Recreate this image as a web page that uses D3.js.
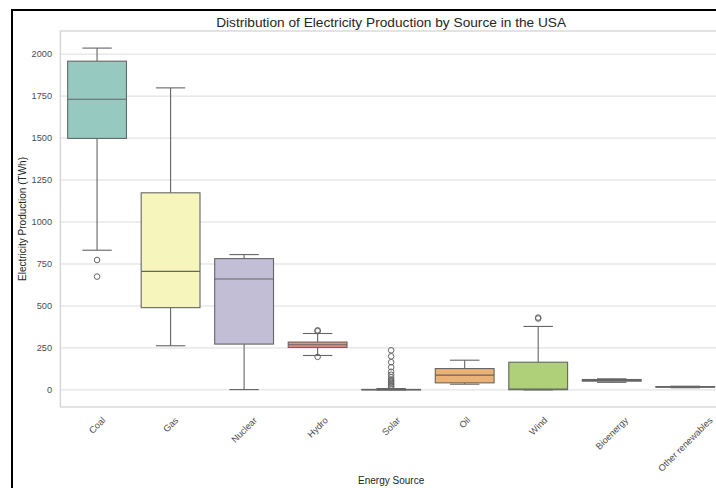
<!DOCTYPE html>
<html>
<head>
<meta charset="utf-8">
<script src="https://cdn.jsdelivr.net/npm/d3@7"></script>
<style>
  body { margin: 0; background: #fff; }
  svg { display: block; font-family: "Liberation Sans", Arial, sans-serif; }
</style>
</head>
<body>
<svg id="chart"></svg>
<script>
// 能源類別與盒形圖統計值 (TWh)
const sources = ["Coal", "Gas", "Nuclear", "Hydro", "Solar", "Oil", "Wind", "Bioenergy", "Other renewables"];
const whiskerLo = [832, 263, 2, 205, 0, 34, 0, 45, 13];
const q1 = [1498, 490, 273, 253, 0, 42, 1, 52, 16];
const median = [1731, 706, 661, 269, 1, 88, 5, 57, 18];
const q3 = [1958, 1174, 782, 285, 3, 127, 165, 62, 20];
const whiskerHi = [2036, 1799, 806, 336, 8, 177, 378, 66, 22];
const outliers = [
  [774, 675],
  [],
  [],
  [350, 355, 197],
  [18, 26, 35, 43, 53, 62, 75, 90, 108, 135, 165, 200, 236],
  [],
  [425, 431],
  [],
  []
];
const yTicks = [0, 250, 500, 750, 1000, 1250, 1500, 1750, 2000];
const palette = ["#8dd3c7", "#ffffb3", "#bebada", "#fb8072", "#80b1d3", "#fdb462", "#b3de69", "#fccde5", "#d9d9d9"];

const width = 716, height = 488;
const margin = { left: 60.3, right: 722, top: 31, bottom: 407 };

const svg = d3.select("#chart").attr("width", width).attr("height", height);

// 外框
svg.append("rect")
  .attr("x", 12).attr("y", 10)
  .attr("width", 800).attr("height", 600)
  .attr("fill", "none").attr("stroke", "#000").attr("stroke-width", 2);

// 比例尺 (matplotlib 式 5% 邊界)
const allVals = whiskerLo.concat(whiskerHi, outliers.flat());
const vmin = d3.min(allVals), vmax = d3.max(allVals);
const pad = (vmax - vmin) * 0.05;
const y = d3.scaleLinear().domain([vmin - pad, vmax + pad]).range([margin.bottom, margin.top]);
const x = d3.scaleBand().domain(sources).range([margin.left, margin.right]);
const boxW = x.bandwidth() * 0.8;
const capW = boxW / 2;

// 格線
svg.append("g").selectAll("line")
  .data(yTicks).enter().append("line")
  .attr("x1", margin.left).attr("x2", margin.right)
  .attr("y1", d => y(d)).attr("y2", d => y(d))
  .attr("stroke", "#dcdcdc").attr("stroke-width", 1);

// 邊框 spines
svg.append("rect")
  .attr("x", margin.left).attr("y", margin.top)
  .attr("width", margin.right - margin.left).attr("height", margin.bottom - margin.top)
  .attr("fill", "none").attr("stroke", "#d0d0d0").attr("stroke-width", 1.2);

// Y 軸標籤
svg.append("g").selectAll("text")
  .data(yTicks).enter().append("text")
  .attr("x", 52).attr("y", d => y(d))
  .attr("dy", "0.35em")
  .attr("text-anchor", "end")
  .attr("font-size", 9.2).attr("fill", "#4d4d4d")
  .text(d => d);

function desat(c) {
  const h = d3.hsl(c);
  h.s *= 0.75;
  return h.formatHex();
}
const lineColor = "#656565";

const boxes = svg.append("g");
sources.forEach((s, i) => {
  const cx = x(s) + x.bandwidth() / 2;
  const g = boxes.append("g");
  // whiskers
  g.append("line").attr("x1", cx).attr("x2", cx)
    .attr("y1", y(q3[i])).attr("y2", y(whiskerHi[i]))
    .attr("stroke", lineColor).attr("stroke-width", 1.1);
  g.append("line").attr("x1", cx).attr("x2", cx)
    .attr("y1", y(q1[i])).attr("y2", y(whiskerLo[i]))
    .attr("stroke", lineColor).attr("stroke-width", 1.1);
  // caps
  [whiskerLo[i], whiskerHi[i]].forEach(v => {
    g.append("line").attr("x1", cx - capW / 2).attr("x2", cx + capW / 2)
      .attr("y1", y(v)).attr("y2", y(v))
      .attr("stroke", lineColor).attr("stroke-width", 1.1);
  });
  // box
  g.append("rect")
    .attr("x", cx - boxW / 2).attr("width", boxW)
    .attr("y", y(q3[i])).attr("height", Math.max(0, y(q1[i]) - y(q3[i])))
    .attr("fill", desat(palette[i]))
    .attr("stroke", lineColor).attr("stroke-width", 1.1);
  // median
  g.append("line").attr("x1", cx - boxW / 2).attr("x2", cx + boxW / 2)
    .attr("y1", y(median[i])).attr("y2", y(median[i]))
    .attr("stroke", lineColor).attr("stroke-width", 1.1);
  // outliers
  g.selectAll("circle").data(outliers[i]).enter().append("circle")
    .attr("cx", cx).attr("cy", d => y(d)).attr("r", 2.8)
    .attr("fill", "none").attr("stroke", lineColor).attr("stroke-width", 1);
});

// X 軸標籤 (旋轉 45 度, 置中)
const xl = svg.append("g");
sources.forEach(s => {
  const cx = x(s) + x.bandwidth() / 2;
  const t = xl.append("text")
    .attr("font-size", 9.2).attr("fill", "#4d4d4d")
    .attr("text-anchor", "middle")
    .text(s);
  const w = t.node().getComputedTextLength();
  const h = 9.2 * 0.8;
  const half = (w + h) * Math.SQRT1_2 / 2;
  const cy = 416 + half;
  t.attr("transform", `translate(${cx},${cy}) rotate(-45)`).attr("dy", "0.35em");
});

// 標題與軸名稱
svg.append("text")
  .attr("x", (margin.left + margin.right) / 2).attr("y", 27)
  .attr("text-anchor", "middle")
  .attr("font-size", 13.7).attr("fill", "#262626")
  .text("Distribution of Electricity Production by Source in the USA");

svg.append("text")
  .attr("x", (margin.left + margin.right) / 2).attr("y", 484)
  .attr("text-anchor", "middle")
  .attr("font-size", 10).attr("fill", "#262626")
  .text("Energy Source");

svg.append("text")
  .attr("transform", `translate(26,${(margin.top + margin.bottom) / 2}) rotate(-90)`)
  .attr("text-anchor", "middle")
  .attr("font-size", 10).attr("fill", "#262626")
  .text("Electricity Production (TWh)");
</script>
</body>
</html>
